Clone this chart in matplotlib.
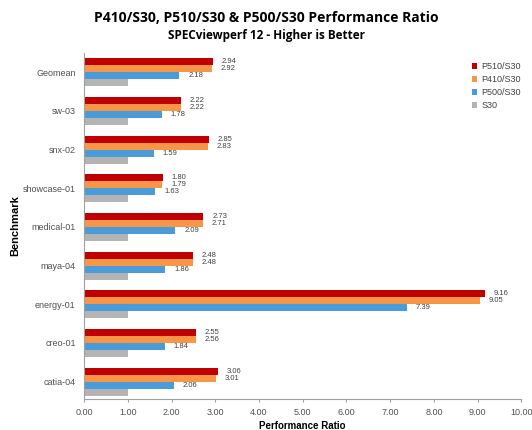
import numpy as np
import matplotlib.pyplot as plt

benchmarks = ['Geomean', 'sw-03', 'snx-02', 'showcase-01', 'medical-01',
              'maya-04', 'energy-01', 'creo-01', 'catia-04']
p510 = [2.94, 2.22, 2.85, 1.80, 2.73, 2.48, 9.16, 2.55, 3.06]
p410 = [2.92, 2.22, 2.83, 1.79, 2.71, 2.48, 9.05, 2.56, 3.01]
p500 = [2.18, 1.78, 1.59, 1.63, 2.09, 1.86, 7.39, 1.84, 2.06]
s30 = [1.00] * len(benchmarks)

series = [('P510/S30', p510, '#C00000'),
          ('P410/S30', p410, '#F79646'),
          ('P500/S30', p500, '#4A9BDA'),
          ('S30', s30, '#B4B4B4')]

fig = plt.figure(figsize=(5.32, 4.30), dpi=100)
ax = fig.add_axes([0.158, 0.072, 0.822, 0.805])

n = len(benchmarks)
y = np.arange(n)[::-1].astype(float)
h = 0.18
for i, (name, vals, col) in enumerate(series):
    pos = y + 0.27 - i * h
    ax.barh(pos, vals, height=h, color=col, label=name)
    if name != 'S30':
        for p, v in zip(pos, vals):
            ax.text(v + 0.2, p, '%.2f' % v, fontsize=5.5, va='center',
                    color='#404040', family='Liberation Sans')

ax.set_xlim(0, 10)
ax.set_ylim(-0.45, n - 0.5)
ax.set_xticks(np.arange(0, 11, 1))
ax.set_xticklabels(['%.2f' % t for t in range(11)], fontsize=6.5,
                   color='#505050', family='Liberation Sans')
ax.set_yticks(y)
ax.set_yticklabels(benchmarks, fontsize=6.5, color='#505050',
                   family='Liberation Sans')
ax.tick_params(axis='y', length=0, pad=6)
ax.tick_params(axis='x', length=2.5, color='#A0A0A0', pad=4)
for s in ['top', 'right']:
    ax.spines[s].set_visible(False)
for s in ['left', 'bottom']:
    ax.spines[s].set_color('#A0A0A0')
    ax.spines[s].set_linewidth(0.8)

ax.set_xlabel('Performance Ratio', fontsize=7, fontweight='bold',
              family='Liberation Sans', labelpad=3)
ax.set_ylabel('Benchmark', fontsize=8, fontweight='bold',
              family='Liberation Sans', labelpad=1.5)

fig.text(0.5, 0.958, 'P410/S30, P510/S30 & P500/S30 Performance Ratio',
         ha='center', va='center', fontsize=10, fontweight='bold',
         family='Open Sans')
fig.text(0.5, 0.917, 'SPECviewperf 12 - Higher is Better', ha='center',
         va='center', fontsize=8.5, fontweight='bold', family='Open Sans')

# legend top right, pulled in so the labels are not cut off
fig.legend(loc='upper left', bbox_to_anchor=(0.872, 0.875), frameon=False,
           handlelength=0.6, handleheight=0.6, handletextpad=0.4,
           labelspacing=0.45, prop={'family': 'Liberation Sans', 'size': 6.5},
           labelcolor='#404040')

fig.savefig('out.png', dpi=100)
